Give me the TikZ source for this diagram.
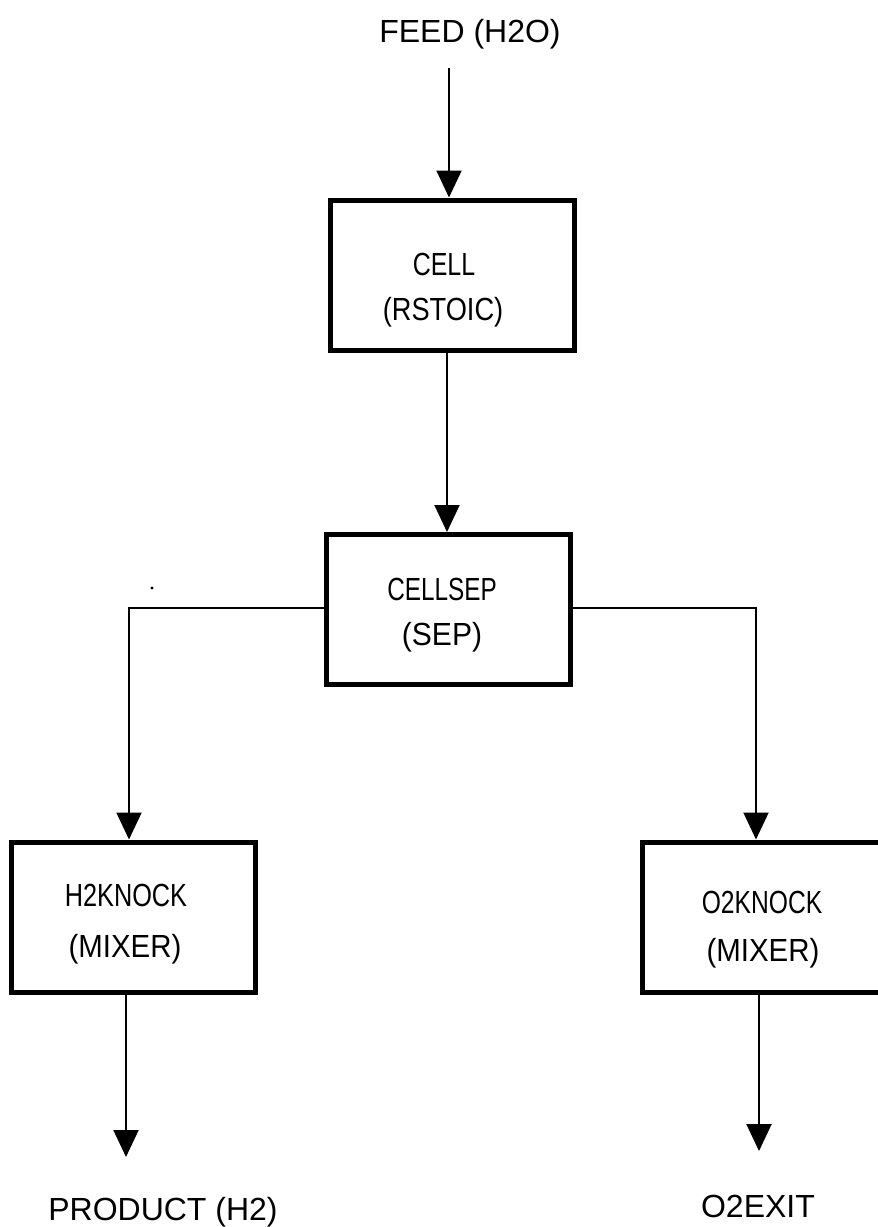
\documentclass[tikz,border=0pt]{standalone}
\usepackage{fontspec}
\usepackage{graphicx}
\setmainfont{Liberation Sans}
\usetikzlibrary{arrows.meta}
\newcommand{\sx}[2]{\scalebox{#1}[1]{#2}}
\begin{document}
\begin{tikzpicture}[x=1pt,y=-1pt,
  unit/.style={draw, line width=5pt, minimum width=244pt, minimum height=150pt, inner sep=0pt},
  flow/.style={line width=2pt, -{Triangle[width=25pt,length=27pt]}},
  lbl/.style={anchor=base, inner sep=0pt, font=\fontsize{32}{38}\selectfont}]
\useasboundingbox (0,0) rectangle (878,1227);
\fill[white] (0,0) rectangle (878,1227);
\clip (0,0) rectangle (878,1227);

% unit boxes
\node[unit] (cell) at (452.5,275) {};
\node[unit] (sep)  at (448,609.5) {};
\node[unit] (h2k)  at (133.5,917) {};
\node[unit] (o2k)  at (764.5,917) {};

% labels
\node[lbl] (feedlbl) at (470,42)   {FEED (H2O)};
\node[lbl] (celltxt) at (444,275)  {\sx{0.78}{CELL}};
\node[lbl] (cellty)  at (443,320)  {\sx{0.85}{(RSTOIC)}};
\node[lbl] (septxt)  at (442,600)  {\sx{0.76}{CELLSEP}};
\node[lbl] (septy)   at (442,645)  {\sx{0.94}{(SEP)}};
\node[lbl] (h2txt)   at (126,906)  {\sx{0.79}{H2KNOCK}};
\node[lbl] (h2ty)    at (125,957)  {\sx{0.92}{(MIXER)}};
\node[lbl] (o2txt)   at (762,913)  {\sx{0.77}{O2KNOCK}};
\node[lbl] (o2ty)    at (763,961)  {\sx{0.92}{(MIXER)}};
\node[lbl] (prod)    at (163,1220) {PRODUCT (H2)};
\node[lbl] (o2exit)  at (758,1217) {O2EXIT};

% connectors
\coordinate (feedtop) at (449,68);
\coordinate (c1) at (447,0);
\coordinate (lx) at (129,608);
\coordinate (rx) at (756,608);
\coordinate (h2end) at (126,1157);
\coordinate (o2end) at (759,1151);

\draw[flow] (feedtop) -- (feedtop |- cell.north);
\draw[flow] (c1 |- cell.south) -- (c1 |- sep.north);
\draw[flow] (sep.west |- lx) -- (lx) -- (lx |- h2k.north);
\draw[flow] (sep.east |- rx) -- (rx) -- (rx |- o2k.north);
\draw[flow] (h2end |- h2k.south) -- (h2end);
\draw[flow] (o2end |- o2k.south) -- (o2end);

% stray speck
\fill (152,588) circle (1.6pt);
\end{tikzpicture}
\end{document}
